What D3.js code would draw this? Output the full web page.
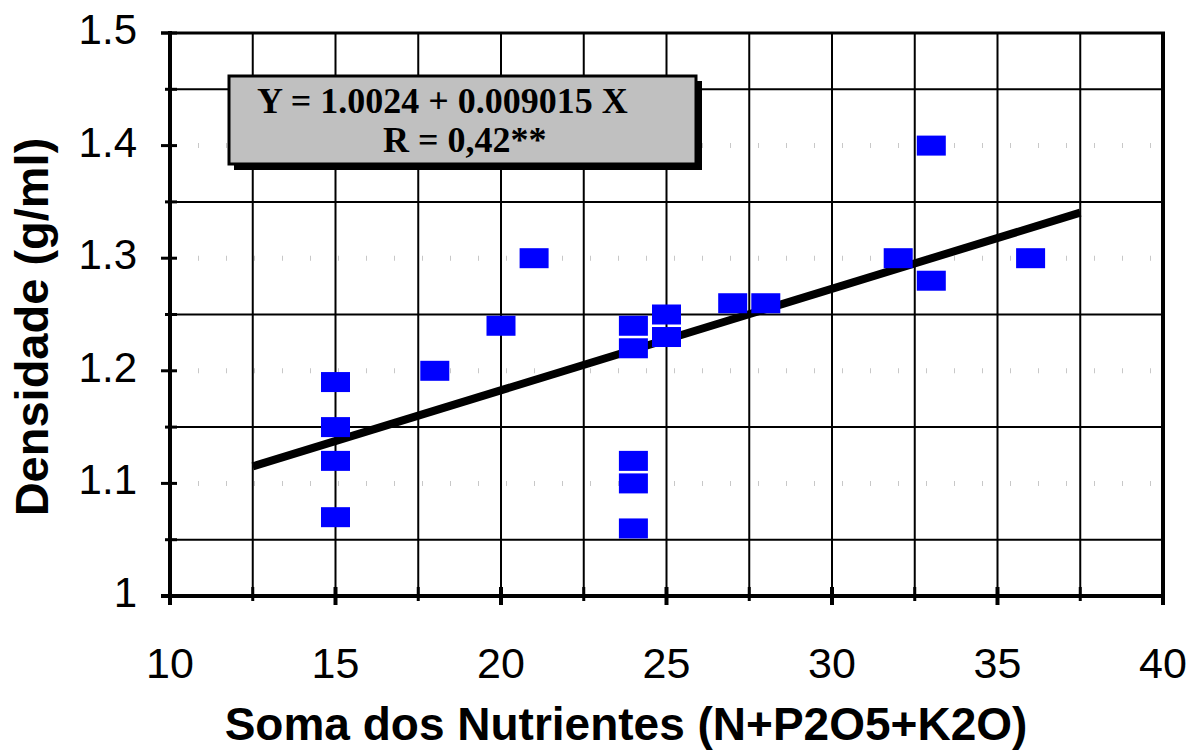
<!DOCTYPE html>
<html>
<head>
<meta charset="utf-8">
<script src="https://cdn.jsdelivr.net/npm/d3@7"></script>
<style>
  body { margin: 0; background: #fff; }
  svg { display: block; }
</style>
</head>
<body>
<svg id="chart" width="1193" height="755"></svg>
<script>
var nutrientSum = [15, 15, 15, 15, 18, 20, 21, 24, 24, 24, 24, 24, 25, 25, 27, 28, 32, 33, 33, 36];
var density     = [1.19, 1.15, 1.12, 1.07, 1.20, 1.24, 1.30, 1.24, 1.22, 1.12, 1.10, 1.06, 1.25, 1.23, 1.26, 1.26, 1.30, 1.40, 1.28, 1.30];

var xTicks = [10, 15, 20, 25, 30, 35, 40];
var yTicks = [1, 1.1, 1.2, 1.3, 1.4, 1.5];
var xMinor = [12.5, 17.5, 22.5, 27.5, 32.5, 37.5];
var yMinor = [1.05, 1.15, 1.25, 1.35, 1.45];

var fitA = 1.0024, fitB = 0.009015;
var fitRange = [12.5, 37.5];
var eqLines = ["Y = 1.0024 + 0.009015 X", "R = 0,42**"];

var margin = {top: 33, right: 30, bottom: 159, left: 170};
var width = 1193 - margin.left - margin.right,
    height = 755 - margin.top - margin.bottom;

var svg = d3.select("#chart");
var g = svg.append("g").attr("transform", "translate(" + margin.left + "," + margin.top + ")");

var x = d3.scaleLinear().domain([10, 40]).range([0, width]);
var y = d3.scaleLinear().domain([1, 1.5]).range([height, 0]);

// faint dotted lines at major y values
g.selectAll(".ydot").data(yTicks.slice(1, -1)).enter().append("line")
  .attr("x1", 0).attr("x2", width)
  .attr("y1", function(d) { return y(d); }).attr("y2", function(d) { return y(d); })
  .style("stroke", "#c8c8c8").style("stroke-width", 5).style("stroke-dasharray", "1 27");

// solid grid: vertical every 2.5, horizontal at the half steps
var vGrid = xTicks.slice(1, -1).concat(xMinor);
g.selectAll(".vgrid").data(vGrid).enter().append("line")
  .attr("x1", function(d) { return x(d); }).attr("x2", function(d) { return x(d); })
  .attr("y1", 0).attr("y2", height)
  .style("stroke", "#000").style("stroke-width", 2);
g.selectAll(".hgrid").data(yMinor).enter().append("line")
  .attr("x1", 0).attr("x2", width)
  .attr("y1", function(d) { return y(d); }).attr("y2", function(d) { return y(d); })
  .style("stroke", "#000").style("stroke-width", 2);

// frame
g.append("line").attr("x1", -9).attr("x2", width + 2).attr("y1", 0).attr("y2", 0)
  .style("stroke", "#000").style("stroke-width", 3);
g.append("line").attr("x1", width).attr("x2", width).attr("y1", 0).attr("y2", height)
  .style("stroke", "#000").style("stroke-width", 4);

// x axis
var xAxis = g.append("g").attr("transform", "translate(0," + height + ")");
xAxis.append("line").attr("x1", -9).attr("x2", width + 2).attr("y1", 0).attr("y2", 0)
  .style("stroke", "#000").style("stroke-width", 4);
xAxis.selectAll(".xmaj").data(xTicks).enter().append("line")
  .attr("x1", function(d) { return x(d); }).attr("x2", function(d) { return x(d); })
  .attr("y1", -9).attr("y2", 9)
  .style("stroke", "#000").style("stroke-width", 4);
xAxis.selectAll(".xmin").data(xMinor).enter().append("line")
  .attr("x1", function(d) { return x(d); }).attr("x2", function(d) { return x(d); })
  .attr("y1", -9).attr("y2", 5)
  .style("stroke", "#000").style("stroke-width", 3);
xAxis.selectAll(".xlab").data(xTicks).enter().append("text")
  .attr("x", function(d) { return x(d); }).attr("y", 82)
  .attr("text-anchor", "middle")
  .style("font-family", "Arial, 'Liberation Sans', sans-serif").style("font-size", "43px")
  .text(function(d) { return d; });

// y axis
var yAxis = g.append("g");
yAxis.append("line").attr("x1", 0).attr("x2", 0).attr("y1", -2).attr("y2", height + 9)
  .style("stroke", "#000").style("stroke-width", 4);
yAxis.selectAll(".ymaj").data(yTicks).enter().append("line")
  .attr("x1", -9).attr("x2", 7)
  .attr("y1", function(d) { return y(d); }).attr("y2", function(d) { return y(d); })
  .style("stroke", "#000").style("stroke-width", 3);
yAxis.selectAll(".ymin").data(yMinor).enter().append("line")
  .attr("x1", -5).attr("x2", 7)
  .attr("y1", function(d) { return y(d); }).attr("y2", function(d) { return y(d); })
  .style("stroke", "#000").style("stroke-width", 3);
yAxis.selectAll(".ylab").data(yTicks).enter().append("text")
  .attr("x", -33).attr("y", function(d) { return y(d) + 11; })
  .attr("text-anchor", "end")
  .style("font-family", "Arial, 'Liberation Sans', sans-serif").style("font-size", "42px")
  .text(function(d) { return d3.format("")(d); });

// regression line
g.append("line")
  .attr("x1", x(fitRange[0])).attr("y1", y(fitA + fitB * fitRange[0]))
  .attr("x2", x(fitRange[1])).attr("y2", y(fitA + fitB * fitRange[1]))
  .style("stroke", "#000").style("stroke-width", 8);

// points
var pts = nutrientSum.map(function(v, i) { return {x: v, y: density[i]}; });
g.selectAll(".pt").data(pts).enter().append("rect")
  .attr("x", function(d) { return x(d.x) - 14.5; })
  .attr("y", function(d) { return y(d.y) - 10; })
  .attr("width", 29).attr("height", 20)
  .style("fill", "#0000ff");

// equation box
var box = svg.append("g").attr("transform", "translate(229,76)");
box.append("rect").attr("x", 5).attr("y", 5).attr("width", 468).attr("height", 89).style("fill", "#000");
box.append("rect").attr("x", 0).attr("y", 0).attr("width", 467).attr("height", 88)
  .style("fill", "#c0c0c0").style("stroke", "#000").style("stroke-width", 3);
box.selectAll(".eq").data(eqLines).enter().append("text")
  .attr("x", function(d, i) { return i === 0 ? 28 : 154; })
  .attr("y", function(d, i) { return 37 + i * 39; })
  .style("font-family", "'Times New Roman', 'Liberation Serif', serif")
  .style("font-size", "36px").style("font-weight", "bold")
  .text(function(d) { return d; });

// axis titles
svg.append("text")
  .attr("x", 626).attr("y", 740)
  .attr("text-anchor", "middle")
  .style("font-family", "Arial, 'Liberation Sans', sans-serif")
  .style("font-size", "46px").style("font-weight", "bold")
  .text("Soma dos Nutrientes (N+P2O5+K2O)");
svg.append("text")
  .attr("transform", "translate(48,327) rotate(-90)")
  .attr("text-anchor", "middle")
  .style("font-family", "Arial, 'Liberation Sans', sans-serif")
  .style("font-size", "47px").style("font-weight", "bold")
  .text("Densidade (g/ml)");
</script>
</body>
</html>
